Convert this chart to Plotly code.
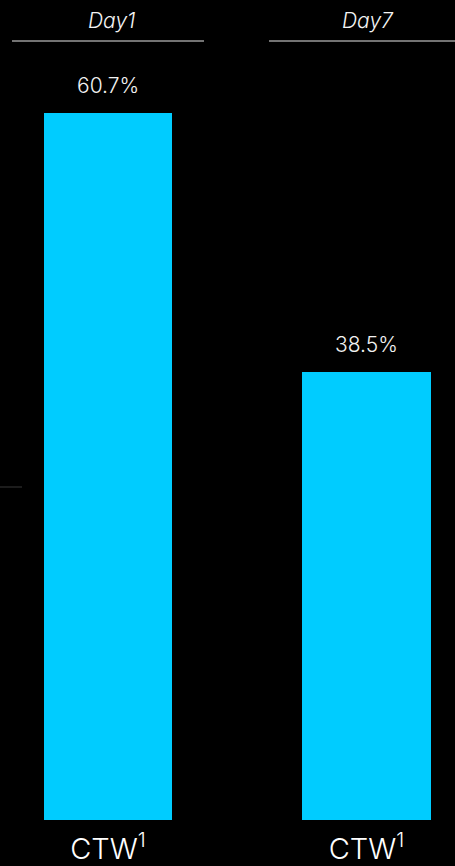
import plotly.graph_objects as go

panels = ["Day1", "Day7"]
categories = ["CTW<sup>1</sup>"]
values_day1 = [60.7]
values_day7 = [38.5]
labels_day1 = ["60.7%"]
labels_day7 = ["38.5%"]

BAR = "#00CCFF"
TXT = "#f2f2f2"
W, H = 455, 866

fig = go.Figure()
fig.add_trace(go.Bar(x=categories, y=values_day1, marker=dict(color=BAR, line=dict(width=0)),
                     width=0.67, xaxis="x", yaxis="y", showlegend=False, hoverinfo="skip"))
fig.add_trace(go.Bar(x=categories, y=values_day7, marker=dict(color=BAR, line=dict(width=0)),
                     width=0.662, xaxis="x2", yaxis="y2", showlegend=False, hoverinfo="skip"))

for xa, ya, vals, labs in [("x", "y", values_day1, labels_day1), ("x2", "y2", values_day7, labels_day7)]:
    for c, v, t in zip(categories, vals, labs):
        fig.add_annotation(x=c, y=v, xref=xa, yref=ya, text=t, showarrow=False,
                           yanchor="bottom", yshift=13,
                           font=dict(family="Inter, Roboto, sans-serif", size=21, weight=300, color=TXT))

d1 = [12 / W, 204 / W]
d2 = [269 / W, 1.0]
ymax = 820 / 11.64

axis_common = dict(showgrid=False, zeroline=False, showline=False, ticks="", ticklabelstandoff=9,
                   tickfont=dict(family="Inter, sans-serif", size=29, weight=300, color="#ffffff"))
fig.update_layout(
    width=W, height=H,
    paper_bgcolor="#000000", plot_bgcolor="#000000",
    margin=dict(l=0, r=0, t=0, b=46),
    bargap=0,
    xaxis=dict(domain=d1, range=[-0.5, 0.5], anchor="y", **axis_common),
    xaxis2=dict(domain=d2, range=[-0.5, 0.454], anchor="y2", **axis_common),
    yaxis=dict(range=[0, ymax], visible=False, anchor="x"),
    yaxis2=dict(range=[0, ymax], visible=False, anchor="x2"),
)

# panel titles and underlines
PH = H - 46
title_x = [111 / W, 368 / W]
line_spans = [(12 / W, 204 / W), (269 / W, 1.0)]
for name, tx, (x0, x1) in zip(panels, title_x, line_spans):
    fig.add_annotation(x=tx, y=1 - 20 / PH, xref="paper", yref="paper", text=name,
                       showarrow=False, xanchor="center", yanchor="middle",
                       font=dict(family="Inter, Roboto, sans-serif", size=21, style="italic",
                                 weight=300, color="#f4f4f4"))
    fig.add_shape(type="line", xref="paper", yref="paper", x0=x0, x1=x1,
                  y0=1 - 41 / PH, y1=1 - 41 / PH,
                  line=dict(color="#9a9a9a", width=1.5))

fig.add_shape(type="line", xref="paper", yref="paper", x0=0, x1=22 / W,
              y0=1 - 487 / PH, y1=1 - 487 / PH, line=dict(color="#1c1c1c", width=2))

fig.write_html("out.html", config={"displayModeBar": False},
               post_script="document.body.style.margin='0';document.body.style.background='#000';")
